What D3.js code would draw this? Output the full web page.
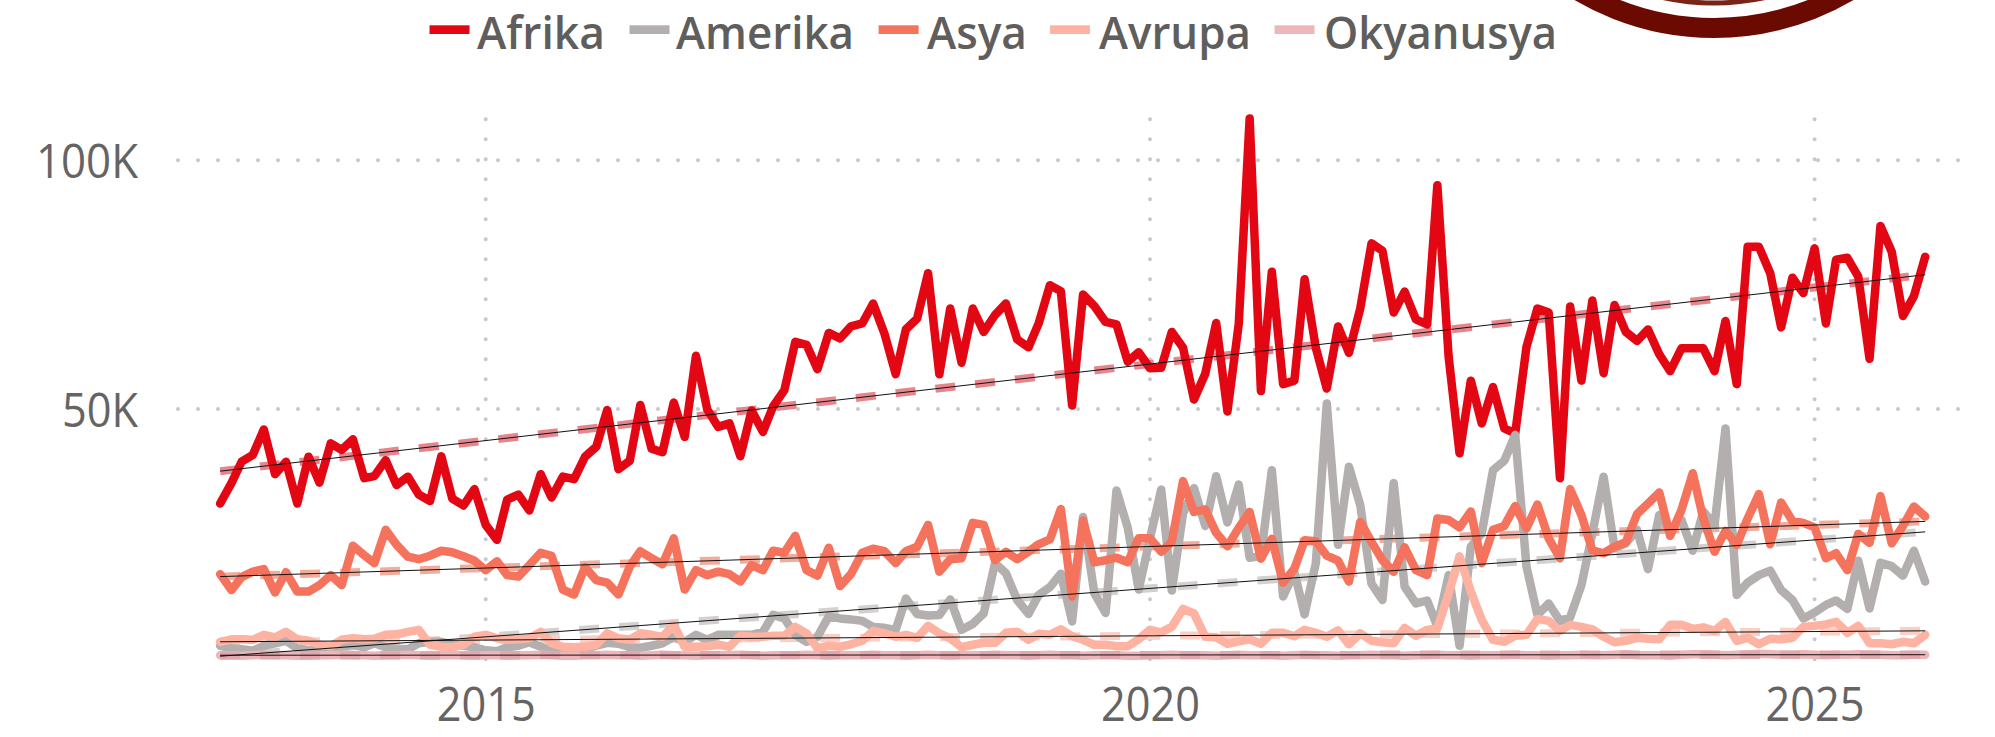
<!DOCTYPE html>
<html>
<head>
<meta charset="utf-8">
<script src="https://cdn.jsdelivr.net/npm/d3@7"></script>
<style>
html,body{margin:0;padding:0;background:#fff;overflow:hidden}
svg{display:block}
text{font-family:"Open Sans","Noto Sans",sans-serif;fill:#605E5C}
</style>
</head>
<body>
<svg id="c" width="1995" height="737"></svg>
<script>
const seriesNames = ["Afrika","Amerika","Asya","Avrupa","Okyanusya"];
const lineColors = ["#E30613","#B3AFAE","#F5735C","#FDB2A2","#EFB6BA"];
const dashColors = ["#E8858C","#D3D0CF","#F3AB9C","#F8D0C6","#E3A6AC"];
const xTickYears = [2015,2020,2025];
const yTicks = [50000,100000];

const afrika = [31.0,35.1,39.4,40.8,45.9,36.9,39.4,31.0,40.4,35.2,43.1,41.8,43.9,36.1,36.5,39.7,34.7,36.4,32.8,31.5,40.5,32.0,30.6,33.9,26.7,23.7,
31.8,32.8,29.6,36.9,32.2,36.4,35.9,40.4,42.4,49.8,37.9,39.6,50.8,42.0,41.3,51.3,44.4,60.7,49.9,46.4,47.1,40.5,49.7,45.4,50.5,53.8,
63.5,62.9,58.0,65.3,64.2,66.6,67.2,71.2,65.2,57.0,66.0,68.2,77.3,57.0,70.2,59.3,70.2,65.5,68.9,71.2,64.0,62.4,67.2,74.9,73.7,
50.7,73.0,70.7,67.5,67.0,59.5,61.4,58.2,58.3,65.5,62.3,51.9,57.1,67.3,49.5,67.1,108.4,53.6,77.6,55.0,55.7,76.1,62.3,54.1,
66.6,61.3,70.2,83.3,81.8,69.4,73.6,68.0,67.0,95.0,60.5,41.1,55.7,47.1,54.4,46.1,45.1,62.5,70.2,69.4,36.1,70.6,55.7,71.8,57.2,70.9,
65.5,63.7,66.0,61.0,57.6,62.2,62.2,62.2,57.6,67.7,55.0,82.6,82.6,77.3,66.4,76.4,73.3,82.3,67.2,80.0,80.4,76.6,60.1,86.8,81.6,68.7,72.7,80.6];

const amerika = [2.4,1.9,1.7,1.4,2.4,2.9,3.4,1.9,1.5,1.4,1.9,2.2,2.6,2.1,2.9,2.1,1.8,1.7,2.9,3.2,3.2,2.7,2.4,2.1,1.5,1.3,
2.1,2.4,3.1,2.2,1.5,1.2,1.5,1.9,2.4,3.0,2.8,2.1,2.0,2.4,2.9,4.2,3.2,4.6,3.6,4.6,4.6,4.6,4.6,5.2,8.6,7.9,
4.6,3.2,4.2,8.3,7.9,7.7,7.4,6.2,6.0,5.6,11.9,8.8,8.5,8.6,11.7,5.6,6.8,8.9,19.0,17.0,11.6,8.8,12.6,14.2,16.9,
7.3,28.3,13.0,9.0,33.6,26.1,13.7,24.0,33.8,13.5,29.0,34.1,26.5,36.5,27.2,34.8,20.1,20.5,37.7,12.3,17.2,8.7,19.0,51.1,
22.7,38.4,30.7,14.9,11.6,35.1,14.3,10.9,11.5,6.3,16.6,2.4,22.3,25.0,37.7,39.6,44.8,18.3,8.6,10.9,7.4,8.1,14.6,25.0,36.4,22.0,
23.0,25.7,17.8,28.7,25.7,27.7,21.5,29.4,26.7,46.1,12.6,15.1,16.6,17.5,13.6,11.6,7.9,9.1,10.6,11.5,9.8,19.5,9.9,19.1,18.4,16.5,21.5,15.3];

const asya = [16.8,13.6,16.2,17.3,17.8,13.1,17.2,13.3,13.3,14.6,16.6,14.6,22.5,20.6,19.0,25.7,22.7,20.3,19.8,20.5,21.5,21.2,20.4,19.5,17.6,19.4,
16.6,16.3,18.6,21.1,20.5,13.7,12.7,18.2,15.6,15.1,12.7,18.3,21.4,20.0,18.8,24.0,13.7,17.6,16.6,17.3,16.8,15.3,18.6,17.6,21.5,21.1,
24.5,17.6,16.5,22.1,14.4,16.8,21.1,21.9,21.4,19.0,21.4,22.3,26.7,17.3,19.8,20.0,27.1,26.7,19.6,21.3,19.8,21.3,22.8,23.8,29.9,
12.3,27.6,19.2,19.6,20.1,19.2,24.0,24.0,21.3,23.3,35.5,29.3,29.8,25.1,22.4,26.1,29.3,19.9,23.9,15.1,17.9,23.6,23.4,20.5,
19.5,15.3,27.3,23.3,19.6,17.3,22.2,17.6,16.6,28.0,27.7,26.2,29.4,19.0,25.7,26.5,30.5,26.0,30.8,24.0,20.0,33.9,28.7,21.6,21.0,22.3,
23.2,28.9,31.0,33.2,24.5,29.7,37.1,28.0,21.3,25.5,22.7,28.0,32.9,22.8,31.2,27.5,27.1,26.2,20.0,21.0,17.6,24.9,23.1,32.5,23.0,26.5,30.4,28.4];

const avrupa = [3.2,3.7,3.7,3.6,4.6,4.1,5.2,3.7,3.4,2.6,2.3,3.6,3.9,3.7,3.8,4.6,4.7,5.2,5.6,2.6,2.2,2.1,2.6,4.2,4.6,3.9,
3.6,3.7,3.9,5.2,2.9,2.2,2.1,2.2,2.6,4.9,3.9,3.6,4.9,4.6,4.2,6.6,2.2,2.2,2.3,2.6,2.2,4.4,4.2,4.2,4.4,4.4,
6.2,4.9,1.9,2.4,2.2,2.7,3.4,5.4,4.9,4.2,4.6,4.0,6.4,4.9,3.9,2.1,2.6,3.0,3.0,5.0,5.2,3.6,4.8,4.6,5.7,
4.3,3.6,2.6,2.6,2.3,2.3,3.7,5.6,5.1,6.2,9.8,8.9,4.2,4.1,2.8,3.3,3.7,2.8,5.0,5.0,4.3,5.6,5.0,4.2,
5.5,2.7,4.9,3.4,3.1,2.9,6.0,4.4,5.6,5.9,12.9,20.4,13.3,7.6,3.6,3.2,4.4,4.6,7.8,7.4,5.4,6.6,6.2,5.7,4.2,3.1,
3.4,4.0,3.8,3.7,6.6,6.6,5.8,6.1,5.4,7.2,3.4,4.0,2.7,3.8,3.7,4.0,6.2,6.4,6.7,7.2,5.0,6.4,2.9,2.9,2.7,3.2,2.9,4.6];

const okyanusya = [0.5,0.5,0.4,0.5,0.6,0.5,0.5,0.4,0.4,0.5,0.5,0.6,0.5,0.5,0.4,0.5,0.5,0.6,0.5,0.4,0.5,0.5,0.5,0.4,0.5,0.5,
0.4,0.5,0.5,0.6,0.5,0.4,0.4,0.5,0.5,0.6,0.5,0.5,0.4,0.5,0.6,0.5,0.5,0.4,0.5,0.5,0.5,0.6,0.5,0.4,0.5,0.5,
0.5,0.6,0.5,0.4,0.5,0.5,0.5,0.6,0.5,0.5,0.4,0.5,0.6,0.5,0.4,0.5,0.5,0.5,0.6,0.5,0.5,0.4,0.5,0.6,0.5,
0.5,0.4,0.5,0.5,0.5,0.4,0.4,0.5,0.5,0.6,0.5,0.5,0.5,0.4,0.5,0.6,0.5,0.5,0.5,0.4,0.5,0.6,0.5,0.5,0.4,0.5,
0.5,0.6,0.5,0.5,0.4,0.5,0.5,0.6,0.5,0.5,0.4,0.5,0.5,0.5,0.6,0.5,0.5,0.4,0.5,0.5,0.6,0.5,0.5,0.6,0.7,0.5,
0.5,0.5,0.4,0.6,0.7,0.7,0.6,0.5,0.6,0.7,0.8,0.7,0.6,0.6,0.7,0.6,0.5,0.6,0.6,0.7,0.6,0.6,0.5,0.5,0.6,0.6,0.7,0.7];

const trendStart = [37.5,0.3,16.3,3.2,0.5];
const trendEnd = [77.0,25.3,27.4,5.4,0.6];

const seriesValues = [afrika,amerika,asya,avrupa,okyanusya];
const months = d3.timeMonth.range(new Date(2013,0,1), new Date(2025,11,1));

const x = d3.scaleTime()
  .domain([new Date(2015,0,1), new Date(2025,0,1)])
  .range([485.7, 1814.6]);
const y = d3.scaleLinear().domain([0,100000]).range([657.7,160.3]);

const svg = d3.select("#c");

// decorative logo fragment, cut by the top edge
const logo = svg.append("g").attr("fill","none");
logo.append("circle").attr("cx",1714).attr("cy",-237).attr("r",265).attr("stroke","#6B0A00").attr("stroke-width",20);
logo.append("circle").attr("cx",1714).attr("cy",-237).attr("r",240).attr("stroke","#7A2418").attr("stroke-width",5);

// gridlines
const grid = svg.append("g").attr("stroke","#C8C8C8").attr("stroke-width",4)
  .attr("stroke-linecap","round").attr("stroke-dasharray","0 20");
grid.selectAll(".h").data(yTicks).join("line").attr("class","h")
  .attr("x1",178).attr("x2",1962).attr("y1",d=>y(d)).attr("y2",d=>y(d));
grid.selectAll(".v").data(xTickYears).join("line").attr("class","v")
  .attr("x1",d=>x(new Date(d,0,1))).attr("x2",d=>x(new Date(d,0,1)))
  .attr("y1",119.3).attr("y2",663);

// axes
const axX = svg.append("g").attr("transform","translate(0,675)")
  .call(d3.axisBottom(x).tickValues(xTickYears.map(v=>new Date(v,0,1))).tickSize(0).tickFormat(d3.timeFormat("%Y")));
axX.select(".domain").remove();
axX.selectAll("text").attr("y",0).attr("dy",45.7).style("font-size","47px").style("font-weight",400).style("fill","#666463")
   .attr("textLength",99).attr("lengthAdjust","spacingAndGlyphs").attr("font-family",null);

const axY = svg.append("g").attr("transform","translate(138,0)")
  .call(d3.axisLeft(y).tickValues(yTicks).tickSize(0).tickPadding(0).tickFormat(d=>d3.format("d")(d/1000)+"K"));
axY.select(".domain").remove();
axY.selectAll("text").attr("dy",17).style("font-size","47px").style("font-weight",400).style("fill","#666463")
   .attr("textLength",d=>d>=100000?102:76).attr("lengthAdjust","spacingAndGlyphs").attr("font-family",null);

// trend reference dashes under the lines
const ends = [months[0], months[months.length-1]];
svg.append("g").selectAll("line").data(seriesNames).join("line")
  .attr("x1",x(ends[0])).attr("x2",x(ends[1]))
  .attr("y1",(d,i)=>y(trendStart[i]*1000)).attr("y2",(d,i)=>y(trendEnd[i]*1000))
  .attr("stroke",(d,i)=>dashColors[i]).attr("stroke-width",8).attr("stroke-dasharray","20 20");

// series lines
const line = d3.line().x((d,i)=>x(months[i])).y(d=>y(d*1000));
svg.append("g").attr("fill","none").attr("stroke-width",8.5).attr("stroke-linejoin","round").attr("stroke-linecap","round")
  .selectAll("path").data(seriesValues).join("path")
  .attr("stroke",(d,i)=>lineColors[i]).attr("d",line);

// dashes of the flat lowest series stay visible over its own line
svg.append("line")
  .attr("x1",x(ends[0])).attr("x2",x(ends[1]))
  .attr("y1",y(trendStart[4]*1000)).attr("y2",y(trendEnd[4]*1000))
  .attr("stroke",dashColors[4]).attr("stroke-width",8).attr("stroke-dasharray","20 20");

// thin black trend lines on top
svg.append("g").selectAll("line").data(seriesNames).join("line")
  .attr("x1",x(ends[0])).attr("x2",x(ends[1]))
  .attr("y1",(d,i)=>y(trendStart[i]*1000)).attr("y2",(d,i)=>y(trendEnd[i]*1000))
  .attr("stroke","#111").attr("stroke-width",1);

// legend
const legendSwatchX = [429.5,629.5,878.6,1050,1274.5];
const legendTextX = [477,676,927,1099,1324];
const legendTextW = [128,178,100,152,233];
const lg = svg.append("g");
lg.selectAll("rect").data(seriesNames).join("rect")
  .attr("x",(d,i)=>legendSwatchX[i]).attr("y",25.3).attr("width",40).attr("height",8.7)
  .attr("fill",(d,i)=>lineColors[i]);
lg.selectAll("text").data(seriesNames).join("text")
  .attr("x",(d,i)=>legendTextX[i]).attr("y",48.6)
  .attr("textLength",(d,i)=>legendTextW[i]).attr("lengthAdjust","spacingAndGlyphs")
  .style("font-size","45.5px").style("font-weight",600).text(d=>d);
</script>
</body>
</html>
